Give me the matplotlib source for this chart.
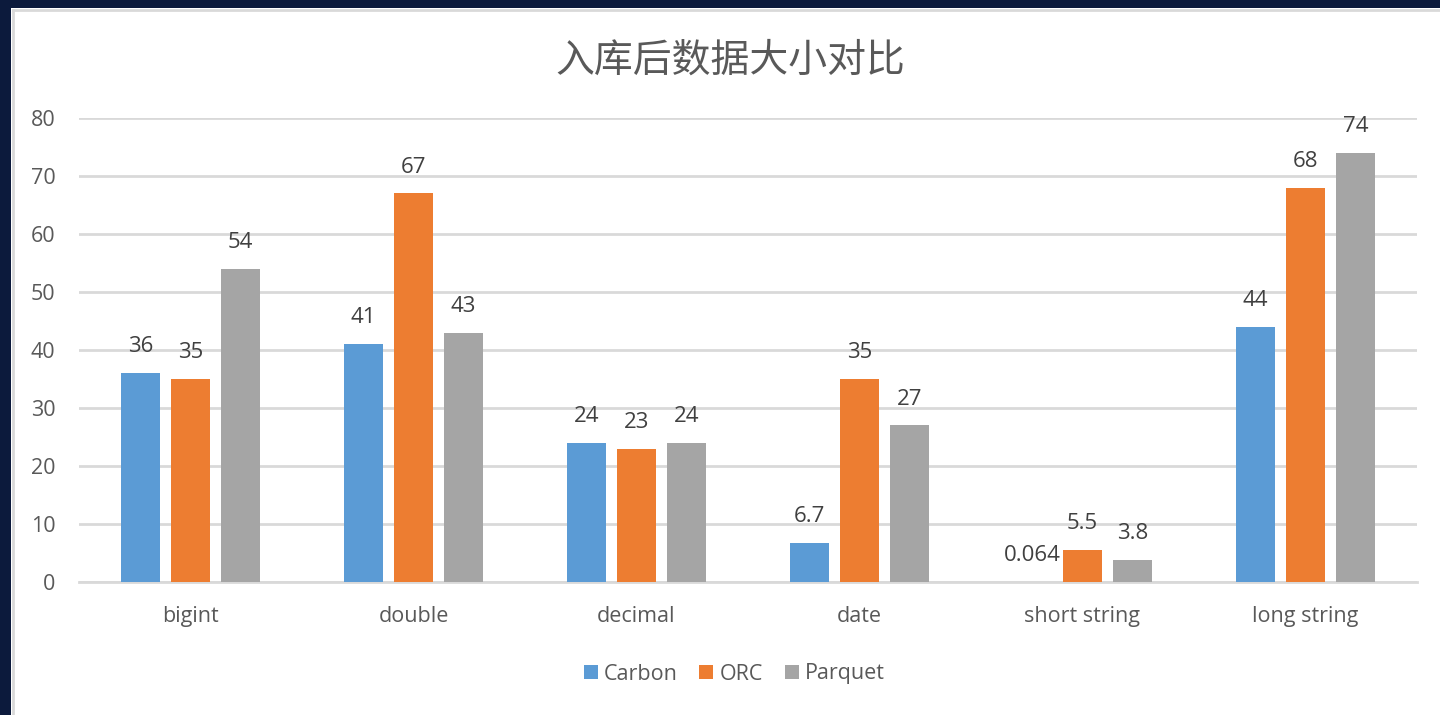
import numpy as np
import matplotlib
matplotlib.use("Agg")
from matplotlib import pyplot as plt
from matplotlib.patches import Rectangle

categories = ["bigint", "double", "decimal", "date", "short string", "long string"]
series_names = ["Carbon", "ORC", "Parquet"]
carbon = [36, 41, 24, 6.7, 0.064, 44]
orc = [35, 67, 23, 35, 5.5, 68]
parquet = [54, 43, 24, 27, 3.8, 74]
yticks = [0, 10, 20, 30, 40, 50, 60, 70, 80]

colors = ["#5B9BD5", "#ED7D31", "#A5A5A5"]
text_col = "#595959"
label_col = "#404040"

plt.rcParams['font.family'] = ['Open Sans', 'Noto Sans CJK SC', 'DejaVu Sans']

fig = plt.figure(figsize=(14.4, 7.15), dpi=100)
fig.patch.set_facecolor("#0c1a3c")

# white chart panel with thin light edge on top/left
W, H = 1440, 715
panel = Rectangle((11 / W, 0), 1 - 11 / W, (H - 8) / H, transform=fig.transFigure,
                  facecolor="white", edgecolor="none", zorder=-10)
fig.patches.append(panel)
fig.add_artist(plt.Line2D([12.5 / W, 1], [(H - 9.5) / H] * 2, transform=fig.transFigure,
                          color="#d9d9d9", lw=2, zorder=-9))
fig.add_artist(plt.Line2D([12.5 / W] * 2, [0, (H - 9.5) / H], transform=fig.transFigure,
                          color="#d9d9d9", lw=2, zorder=-9))

ax = fig.add_axes([79 / W, 1 - 582 / H, (1417 - 79) / W, (582 - 118) / H])
ax.set_facecolor("none")
ax.set_zorder(2)

x = np.arange(len(categories))
width = 0.175
step = 0.224
for i, (vals, name) in enumerate(zip([carbon, orc, parquet], series_names)):
    bars = ax.bar(x + (i - 1) * step, vals, width, color=colors[i], label=name, zorder=3)
    for b, v in zip(bars, vals):
        ax.annotate(f"{v:g}", (b.get_x() + b.get_width() / 2, v), xytext=(0, 19),
                    textcoords="offset points", ha="center", va="center",
                    fontsize=16, color=label_col)

ax.set_xlim(-0.5, len(categories) - 0.5)
ax.set_ylim(0, 80)
ax.set_yticks(yticks)
ax.set_xticks(x)
ax.set_xticklabels(categories)
ax.grid(axis="y", color="#d9d9d9", lw=2, zorder=0)
for s in ["top", "right", "left"]:
    ax.spines[s].set_visible(False)
ax.spines["bottom"].set_color("#d9d9d9")
ax.spines["bottom"].set_linewidth(2)
ax.tick_params(axis="y", length=0, pad=17, labelsize=15.5, labelcolor=text_col)
ax.tick_params(axis="x", length=0, pad=17, labelsize=15.5, labelcolor=text_col)

fig.text(0.507, 1 - 61 / H, "入库后数据大小对比", ha="center", va="center", fontsize=28,
         color=text_col, family=['Noto Sans CJK SC', 'DejaVu Sans'])

fig.legend(loc="center", bbox_to_anchor=(0.51, 1 - 674 / H), ncol=3, frameon=False,
           fontsize=15.5, labelcolor=text_col, handlelength=0.65, handleheight=0.65,
           handletextpad=0.3, columnspacing=1.0)

fig.savefig("out.png", dpi=100, facecolor=fig.get_facecolor())
